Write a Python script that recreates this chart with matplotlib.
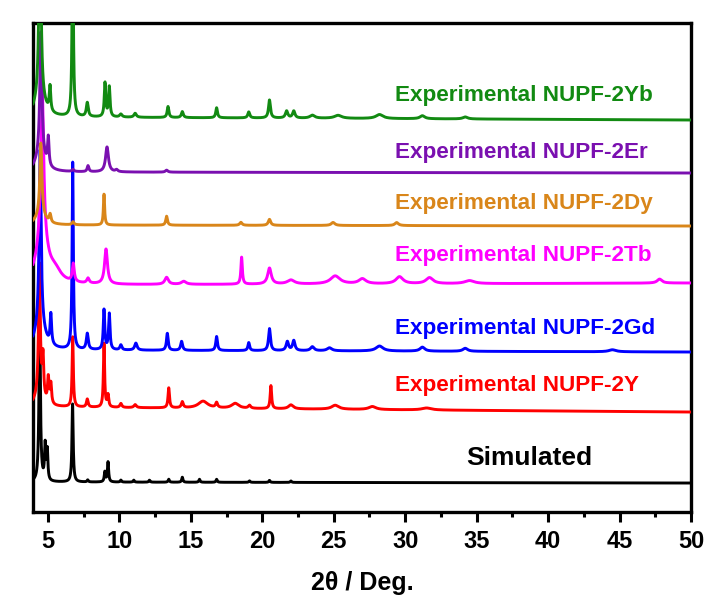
import numpy as np
import matplotlib
matplotlib.use("Agg")
import matplotlib.pyplot as plt
from matplotlib.ticker import MultipleLocator

# peak lists: (2theta, height, half width)
SIM_PEAKS = [(4.42, 160, 0.06), (4.80, 35, 0.05), (4.95, 30, 0.05), (6.72, 78, 0.05),
             (7.78, 2, 0.05), (8.98, 10, 0.05), (9.20, 20, 0.05), (10.1, 2, 0.05),
             (11.0, 2, 0.05), (12.1, 2, 0.05), (13.45, 3, 0.05), (14.4, 5, 0.05),
             (15.6, 3, 0.05), (16.8, 3, 0.05), (19.1, 1.5, 0.05), (20.5, 2, 0.05),
             (22.0, 1.5, 0.05)]
Y_PEAKS = [(4.40, 130, 0.07), (4.40, 12, 0.35), (4.65, 40, 0.06), (5.02, 25, 0.06),
           (5.20, 20, 0.06), (6.73, 70, 0.05), (7.75, 8, 0.07), (8.92, 64, 0.05),
           (9.20, 12, 0.06), (10.1, 4, 0.08), (11.1, 3, 0.1), (13.45, 20, 0.06),
           (14.4, 6, 0.08), (15.85, 7, 0.4), (16.8, 5, 0.08), (18.1, 5, 0.3),
           (19.1, 3, 0.1), (20.6, 23, 0.06), (22.0, 4, 0.2), (25.1, 4, 0.3),
           (27.7, 3, 0.3), (31.5, 2, 0.4)]
GD_PEAKS = [(4.45, 175, 0.08), (4.45, 25, 0.4), (5.20, 30, 0.06), (6.73, 187, 0.05),
            (7.75, 16, 0.08), (8.92, 40, 0.06), (9.29, 36, 0.06), (10.1, 5, 0.08),
            (11.15, 7, 0.1), (13.35, 17, 0.07), (14.35, 9, 0.08), (16.8, 14, 0.07),
            (19.05, 8, 0.07), (20.5, 22, 0.08), (21.75, 9, 0.1), (22.2, 10, 0.1),
            (23.5, 4, 0.15), (24.7, 3, 0.2), (28.2, 5, 0.3), (31.2, 4, 0.2),
            (34.2, 3, 0.2), (44.5, 2, 0.3)]
TB_PEAKS = [(4.60, 150, 0.12), (4.60, 40, 0.5), (5.5, 10, 0.5), (6.77, 18, 0.08),
            (7.8, 5, 0.1), (9.06, 35, 0.12), (13.3, 7, 0.15), (14.5, 3, 0.2),
            (18.55, 27, 0.06), (20.5, 16, 0.15), (22.0, 4, 0.3), (25.1, 8, 0.4),
            (27.0, 5, 0.3), (29.6, 7, 0.3), (31.7, 6, 0.3), (34.5, 3, 0.4),
            (47.8, 4, 0.2)]
DY_PEAKS = [(4.50, 70, 0.08), (4.50, 12, 0.35), (5.15, 8, 0.07), (6.75, 3, 0.08),
            (8.92, 31, 0.05), (13.3, 9, 0.07), (18.5, 3, 0.1), (20.5, 6, 0.1),
            (24.95, 3, 0.15), (29.4, 3, 0.15)]
ER_PEAKS = [(4.50, 120, 0.08), (4.50, 20, 0.35), (5.02, 28, 0.06), (6.75, 2, 0.08),
            (7.8, 6, 0.07), (9.13, 25, 0.12), (9.8, 2, 0.1), (13.3, 2, 0.1)]
YB_PEAKS = [(4.44, 200, 0.08), (4.44, 20, 0.4), (5.14, 25, 0.06), (6.73, 200, 0.05),
            (7.75, 14, 0.08), (8.99, 34, 0.06), (9.29, 30, 0.06), (10.1, 3, 0.1),
            (11.1, 4, 0.1), (13.4, 11, 0.07), (14.4, 6, 0.08), (16.8, 10, 0.07),
            (19.05, 6, 0.08), (20.5, 18, 0.08), (21.7, 7, 0.1), (22.2, 7, 0.1),
            (23.5, 3, 0.2), (25.3, 3, 0.3), (28.2, 4, 0.3), (31.2, 3, 0.2),
            (34.2, 2, 0.2)]

SERIES_NAMES = ["Simulated", "Experimental NUPF-2Y", "Experimental NUPF-2Gd",
                "Experimental NUPF-2Tb", "Experimental NUPF-2Dy",
                "Experimental NUPF-2Er", "Experimental NUPF-2Yb"]
SERIES_PEAKS = [SIM_PEAKS, Y_PEAKS, GD_PEAKS, TB_PEAKS, DY_PEAKS, ER_PEAKS, YB_PEAKS]
BASE_START = [30, 105, 162, 227, 287, 340, 395]
BASE_END = [29, 100, 160, 229, 286, 339, 392]
LABEL_Y = [54, 127, 184, 257, 309, 360, 417]

COLORS = ["black", "#ff0000", "#0000ff", "#ff00ff", "#d9861a", "#7a10b0", "#128a12"]

X_MIN, X_MAX = 3.95, 50

plt.rcParams["font.family"] = ["Liberation Sans", "DejaVu Sans"]
plt.rcParams["font.weight"] = "bold"

fig = plt.figure(figsize=(7.14, 5.99), dpi=100)
ax = fig.add_axes([0.0462, 0.1452, 0.9216, 0.8164])

two_theta = np.linspace(X_MIN, X_MAX, 6000)

for i, (name, peaks) in enumerate(zip(SERIES_NAMES, SERIES_PEAKS)):
    frac = (two_theta - X_MIN) / (X_MAX - X_MIN)
    y = BASE_START[i] + (BASE_END[i] - BASE_START[i]) * frac
    for pos, height, hw in peaks:
        y = y + height * hw ** 2 / ((two_theta - pos) ** 2 + hw ** 2)
    ax.plot(two_theta, y, color=COLORS[i], linewidth=2.1, zorder=2 + i)

    if name == "Simulated":
        ax.text(34.3, LABEL_Y[i], name, color=COLORS[i], fontsize=19,
                fontweight="bold", va="center", ha="left")
    else:
        ax.text(29.3, LABEL_Y[i], name, color=COLORS[i], fontsize=16.2,
                fontweight="bold", va="center", ha="left")

ax.set_xlim(X_MIN, X_MAX)
ax.set_ylim(0, 489)
ax.xaxis.set_major_locator(MultipleLocator(5))
ax.xaxis.set_minor_locator(MultipleLocator(2.5))
ax.set_yticks([])
ax.tick_params(axis="x", which="major", direction="out", length=7, width=2.2,
               labelsize=17, pad=6)
ax.tick_params(axis="x", which="minor", direction="out", length=3.5, width=2.2)
for label in ax.get_xticklabels():
    label.set_fontweight("bold")
for spine in ax.spines.values():
    spine.set_linewidth(2.4)

ax.set_xlabel("2θ / Deg.", fontsize=18, fontweight="bold", labelpad=13)

fig.savefig("out.png", dpi=100)
